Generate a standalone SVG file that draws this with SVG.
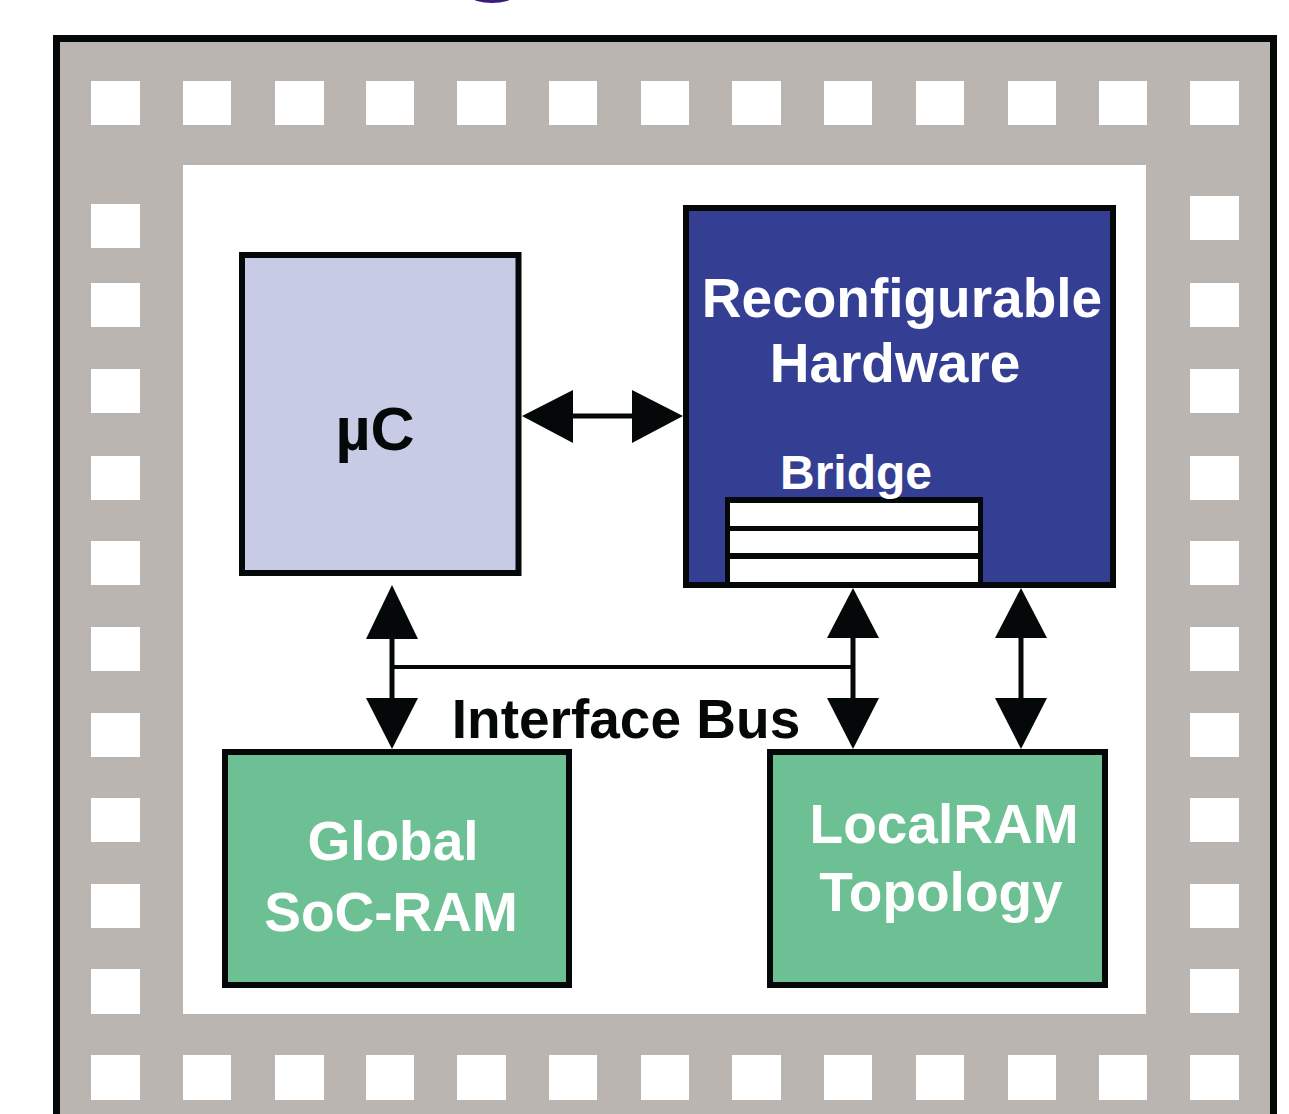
<svg xmlns="http://www.w3.org/2000/svg" width="1289" height="1114" viewBox="0 0 1289 1114">
<defs>
<style>
.pad{fill:#ffffff}
.box{stroke:#050808;stroke-width:6}
.lbl{font-family:"Liberation Sans",Arial,sans-serif;font-weight:bold;text-anchor:middle}
.w{fill:#ffffff}
.k{fill:#050808}
.shaft{stroke:#050808;stroke-width:5;fill:none}
.head{fill:#050808}
</style>
</defs>
<rect width="1289" height="1114" fill="#ffffff"/>
<ellipse cx="492" cy="-3" rx="20" ry="6" fill="#3b1c7e"/>
<g id="chip">
<rect x="56.5" y="38.5" width="1217" height="1100" fill="#bab5b1" stroke="#050808" stroke-width="7"/>
<rect x="183" y="165" width="963" height="849" fill="#ffffff"/>
<g id="pads-top">
<rect class="pad" x="91" y="81" width="49" height="44"/>
<rect class="pad" x="183" y="81" width="48" height="44"/>
<rect class="pad" x="275" y="81" width="49" height="44"/>
<rect class="pad" x="366" y="81" width="48" height="44"/>
<rect class="pad" x="457" y="81" width="49" height="44"/>
<rect class="pad" x="549" y="81" width="48" height="44"/>
<rect class="pad" x="641" y="81" width="48" height="44"/>
<rect class="pad" x="732" y="81" width="49" height="44"/>
<rect class="pad" x="824" y="81" width="48" height="44"/>
<rect class="pad" x="916" y="81" width="48" height="44"/>
<rect class="pad" x="1008" y="81" width="48" height="44"/>
<rect class="pad" x="1099" y="81" width="48" height="44"/>
<rect class="pad" x="1190" y="81" width="49" height="44"/>
</g>
<g id="pads-bottom">
<rect class="pad" x="91" y="1055" width="49" height="45"/>
<rect class="pad" x="183" y="1055" width="48" height="45"/>
<rect class="pad" x="275" y="1055" width="49" height="45"/>
<rect class="pad" x="366" y="1055" width="48" height="45"/>
<rect class="pad" x="457" y="1055" width="49" height="45"/>
<rect class="pad" x="549" y="1055" width="48" height="45"/>
<rect class="pad" x="641" y="1055" width="48" height="45"/>
<rect class="pad" x="732" y="1055" width="49" height="45"/>
<rect class="pad" x="824" y="1055" width="48" height="45"/>
<rect class="pad" x="916" y="1055" width="48" height="45"/>
<rect class="pad" x="1008" y="1055" width="48" height="45"/>
<rect class="pad" x="1099" y="1055" width="48" height="45"/>
<rect class="pad" x="1190" y="1055" width="49" height="45"/>
</g>
<g id="pads-left">
<rect class="pad" x="91" y="204" width="49" height="44"/>
<rect class="pad" x="91" y="283" width="49" height="44"/>
<rect class="pad" x="91" y="369" width="49" height="44"/>
<rect class="pad" x="91" y="456" width="49" height="44"/>
<rect class="pad" x="91" y="541" width="49" height="44"/>
<rect class="pad" x="91" y="627" width="49" height="44"/>
<rect class="pad" x="91" y="713" width="49" height="44"/>
<rect class="pad" x="91" y="798" width="49" height="44"/>
<rect class="pad" x="91" y="884" width="49" height="44"/>
<rect class="pad" x="91" y="969" width="49" height="45"/>
</g>
<g id="pads-right">
<rect class="pad" x="1190" y="196" width="49" height="44"/>
<rect class="pad" x="1190" y="283" width="49" height="44"/>
<rect class="pad" x="1190" y="369" width="49" height="44"/>
<rect class="pad" x="1190" y="456" width="49" height="44"/>
<rect class="pad" x="1190" y="541" width="49" height="44"/>
<rect class="pad" x="1190" y="627" width="49" height="44"/>
<rect class="pad" x="1190" y="713" width="49" height="44"/>
<rect class="pad" x="1190" y="798" width="49" height="44"/>
<rect class="pad" x="1190" y="884" width="49" height="44"/>
<rect class="pad" x="1190" y="969" width="49" height="44"/>
</g>
</g>
<g id="uc">
<rect class="box" x="242" y="255" width="276.5" height="318" fill="#c7cbe5"/>
<text class="lbl k" x="375" y="450" font-size="61">µC</text>
</g>
<g id="reconfigurable-hardware">
<rect class="box" x="686" y="208" width="427" height="377" fill="#343f93"/>
<text class="lbl w" x="902" y="317" font-size="55">Reconfigurable</text>
<text class="lbl w" x="895" y="382" font-size="55">Hardware</text>
</g>
<g id="bridge">
<rect x="725" y="497" width="258" height="88" fill="#050808"/>
<rect x="730" y="503" width="248" height="23" fill="#ffffff"/>
<rect x="730" y="531" width="248" height="22" fill="#ffffff"/>
<rect x="730" y="559" width="248" height="23" fill="#ffffff"/>
<text class="lbl w" x="856" y="489" font-size="48">Bridge</text>
</g>
<g id="global-soc-ram">
<rect class="box" x="225" y="752" width="344" height="233" fill="#6cc093"/>
<text class="lbl w" x="393" y="860" font-size="55">Global</text>
<text class="lbl w" x="391" y="931" font-size="55">SoC-RAM</text>
</g>
<g id="localram-topology">
<rect class="box" x="770" y="752" width="335" height="233" fill="#6cc093"/>
<text class="lbl w" x="944" y="843" font-size="55">LocalRAM</text>
<text class="lbl w" x="941" y="911" font-size="55">Topology</text>
</g>
<g id="connectors">
<line class="shaft" x1="570" y1="416" x2="635" y2="416"/>
<polygon class="head" points="522,416 573,390 573,443"/>
<polygon class="head" points="683,416 632,390 632,443"/>
<line class="shaft" x1="392" y1="636" x2="392" y2="701"/>
<polygon class="head" points="392,585 366,639 418,639"/>
<polygon class="head" points="392,749 366,698 418,698"/>
<line class="shaft" x1="853" y1="636" x2="853" y2="701"/>
<polygon class="head" points="853,588 827,638 879,638"/>
<polygon class="head" points="853,749 827,698 879,698"/>
<line x1="392" y1="667" x2="853" y2="667" stroke="#050808" stroke-width="4"/>
<line class="shaft" x1="1021" y1="636" x2="1021" y2="701"/>
<polygon class="head" points="1021,588 995,638 1047,638"/>
<polygon class="head" points="1021,749 995,698 1047,698"/>
<text class="lbl k" x="626" y="738" font-size="55">Interface Bus</text>
</g>
</svg>
